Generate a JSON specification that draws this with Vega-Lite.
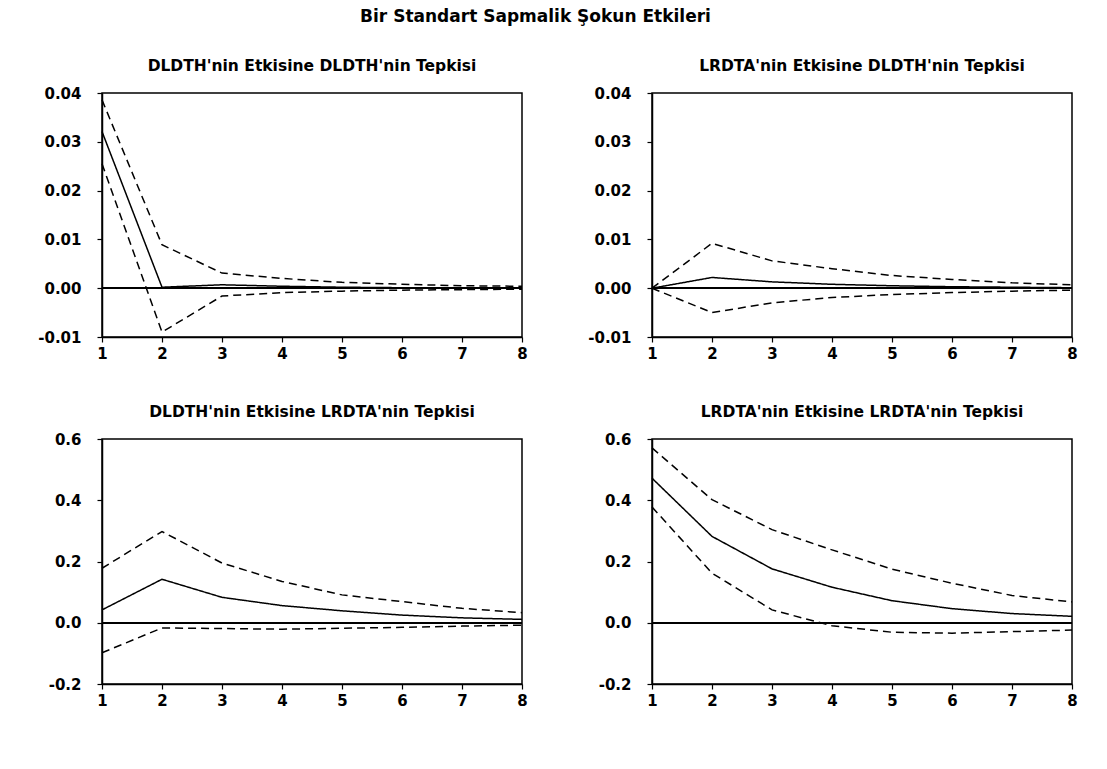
{
  "$schema": "https://vega.github.io/schema/vega-lite/v6.json",
  "background": "white",
  "padding": {"left": 37, "top": 7, "right": 10, "bottom": 10},
  "title": {"text": "Bir Standart Sapmalik Şokun Etkileri", "font": "DejaVu Sans", "fontSize": 17, "fontWeight": "bold", "color": "black", "anchor": "middle", "baseline": "alphabetic", "offset": 19, "dx": -22},
  "columns": 2,
  "spacing": {"row": 102, "column": 130},
  "bounds": "flush",
  "data": {"values": [
    {"p": 1, "s": "resp", "h": 1, "v": 0.0321}, {"p": 1, "s": "resp", "h": 2, "v": 0.0002}, {"p": 1, "s": "resp", "h": 3, "v": 0.0007}, {"p": 1, "s": "resp", "h": 4, "v": 0.0004}, {"p": 1, "s": "resp", "h": 5, "v": 0.0002}, {"p": 1, "s": "resp", "h": 6, "v": 0.0001}, {"p": 1, "s": "resp", "h": 7, "v": 0.0001}, {"p": 1, "s": "resp", "h": 8, "v": 0.0000},
    {"p": 1, "s": "upper", "h": 1, "v": 0.0386}, {"p": 1, "s": "upper", "h": 2, "v": 0.0089}, {"p": 1, "s": "upper", "h": 3, "v": 0.0031}, {"p": 1, "s": "upper", "h": 4, "v": 0.0020}, {"p": 1, "s": "upper", "h": 5, "v": 0.0012}, {"p": 1, "s": "upper", "h": 6, "v": 0.0008}, {"p": 1, "s": "upper", "h": 7, "v": 0.0005}, {"p": 1, "s": "upper", "h": 8, "v": 0.0004},
    {"p": 1, "s": "lower", "h": 1, "v": 0.0255}, {"p": 1, "s": "lower", "h": 2, "v": -0.0090}, {"p": 1, "s": "lower", "h": 3, "v": -0.0016}, {"p": 1, "s": "lower", "h": 4, "v": -0.0009}, {"p": 1, "s": "lower", "h": 5, "v": -0.0006}, {"p": 1, "s": "lower", "h": 6, "v": -0.0004}, {"p": 1, "s": "lower", "h": 7, "v": -0.0003}, {"p": 1, "s": "lower", "h": 8, "v": -0.0002},
    {"p": 2, "s": "resp", "h": 1, "v": 0.0}, {"p": 2, "s": "resp", "h": 2, "v": 0.0022}, {"p": 2, "s": "resp", "h": 3, "v": 0.0013}, {"p": 2, "s": "resp", "h": 4, "v": 0.0008}, {"p": 2, "s": "resp", "h": 5, "v": 0.0005}, {"p": 2, "s": "resp", "h": 6, "v": 0.0003}, {"p": 2, "s": "resp", "h": 7, "v": 0.0002}, {"p": 2, "s": "resp", "h": 8, "v": 0.0001},
    {"p": 2, "s": "upper", "h": 1, "v": 0.0}, {"p": 2, "s": "upper", "h": 2, "v": 0.0092}, {"p": 2, "s": "upper", "h": 3, "v": 0.0056}, {"p": 2, "s": "upper", "h": 4, "v": 0.0040}, {"p": 2, "s": "upper", "h": 5, "v": 0.0026}, {"p": 2, "s": "upper", "h": 6, "v": 0.0018}, {"p": 2, "s": "upper", "h": 7, "v": 0.0011}, {"p": 2, "s": "upper", "h": 8, "v": 0.0007},
    {"p": 2, "s": "lower", "h": 1, "v": 0.0}, {"p": 2, "s": "lower", "h": 2, "v": -0.0050}, {"p": 2, "s": "lower", "h": 3, "v": -0.0030}, {"p": 2, "s": "lower", "h": 4, "v": -0.0019}, {"p": 2, "s": "lower", "h": 5, "v": -0.0013}, {"p": 2, "s": "lower", "h": 6, "v": -0.0009}, {"p": 2, "s": "lower", "h": 7, "v": -0.0006}, {"p": 2, "s": "lower", "h": 8, "v": -0.0004},
    {"p": 3, "s": "resp", "h": 1, "v": 0.042}, {"p": 3, "s": "resp", "h": 2, "v": 0.142}, {"p": 3, "s": "resp", "h": 3, "v": 0.083}, {"p": 3, "s": "resp", "h": 4, "v": 0.056}, {"p": 3, "s": "resp", "h": 5, "v": 0.039}, {"p": 3, "s": "resp", "h": 6, "v": 0.025}, {"p": 3, "s": "resp", "h": 7, "v": 0.016}, {"p": 3, "s": "resp", "h": 8, "v": 0.011},
    {"p": 3, "s": "upper", "h": 1, "v": 0.178}, {"p": 3, "s": "upper", "h": 2, "v": 0.298}, {"p": 3, "s": "upper", "h": 3, "v": 0.195}, {"p": 3, "s": "upper", "h": 4, "v": 0.135}, {"p": 3, "s": "upper", "h": 5, "v": 0.091}, {"p": 3, "s": "upper", "h": 6, "v": 0.069}, {"p": 3, "s": "upper", "h": 7, "v": 0.047}, {"p": 3, "s": "upper", "h": 8, "v": 0.033},
    {"p": 3, "s": "lower", "h": 1, "v": -0.098}, {"p": 3, "s": "lower", "h": 2, "v": -0.017}, {"p": 3, "s": "lower", "h": 3, "v": -0.019}, {"p": 3, "s": "lower", "h": 4, "v": -0.021}, {"p": 3, "s": "lower", "h": 5, "v": -0.018}, {"p": 3, "s": "lower", "h": 6, "v": -0.015}, {"p": 3, "s": "lower", "h": 7, "v": -0.011}, {"p": 3, "s": "lower", "h": 8, "v": -0.008},
    {"p": 4, "s": "resp", "h": 1, "v": 0.472}, {"p": 4, "s": "resp", "h": 2, "v": 0.282}, {"p": 4, "s": "resp", "h": 3, "v": 0.176}, {"p": 4, "s": "resp", "h": 4, "v": 0.116}, {"p": 4, "s": "resp", "h": 5, "v": 0.072}, {"p": 4, "s": "resp", "h": 6, "v": 0.046}, {"p": 4, "s": "resp", "h": 7, "v": 0.030}, {"p": 4, "s": "resp", "h": 8, "v": 0.021},
    {"p": 4, "s": "upper", "h": 1, "v": 0.571}, {"p": 4, "s": "upper", "h": 2, "v": 0.402}, {"p": 4, "s": "upper", "h": 3, "v": 0.304}, {"p": 4, "s": "upper", "h": 4, "v": 0.238}, {"p": 4, "s": "upper", "h": 5, "v": 0.175}, {"p": 4, "s": "upper", "h": 6, "v": 0.129}, {"p": 4, "s": "upper", "h": 7, "v": 0.089}, {"p": 4, "s": "upper", "h": 8, "v": 0.068},
    {"p": 4, "s": "lower", "h": 1, "v": 0.378}, {"p": 4, "s": "lower", "h": 2, "v": 0.162}, {"p": 4, "s": "lower", "h": 3, "v": 0.042}, {"p": 4, "s": "lower", "h": 4, "v": -0.010}, {"p": 4, "s": "lower", "h": 5, "v": -0.031}, {"p": 4, "s": "lower", "h": 6, "v": -0.034}, {"p": 4, "s": "lower", "h": 7, "v": -0.029}, {"p": 4, "s": "lower", "h": 8, "v": -0.024}
  ]},
  "concat": [
    {
      "title": {"text": "DLDTH'nin Etkisine DLDTH'nin Tepkisi"},
      "width": 420, "height": 244,
      "transform": [{"filter": "datum.p == 1"}],
      "layer": [
        {"mark": {"type": "rule", "color": "black", "strokeWidth": 1.5}, "encoding": {"y": {"datum": 0, "type": "quantitative", "scale": {"domain": [-0.01, 0.04], "nice": false, "zero": false}}}},
        {"mark": {"type": "line", "color": "black", "strokeWidth": 1.5},
         "encoding": {
           "x": {"field": "h", "type": "quantitative", "title": null, "scale": {"domain": [1, 8], "nice": false, "zero": false}, "axis": {"values": [1, 2, 3, 4, 5, 6, 7, 8], "format": "d"}},
           "y": {"field": "v", "type": "quantitative", "title": null, "scale": {"domain": [-0.01, 0.04], "nice": false, "zero": false}, "axis": {"values": [-0.01, 0, 0.01, 0.02, 0.03, 0.04], "format": ".2f"}},
           "detail": {"field": "s"},
           "strokeDash": {"field": "s", "type": "nominal", "scale": {"domain": ["resp", "upper", "lower"], "range": [[1, 0], [8, 5], [8, 5]]}, "legend": null}
         }}
      ]
    },
    {
      "title": {"text": "LRDTA'nin Etkisine DLDTH'nin Tepkisi"},
      "width": 420, "height": 244,
      "transform": [{"filter": "datum.p == 2"}],
      "layer": [
        {"mark": {"type": "rule", "color": "black", "strokeWidth": 1.5}, "encoding": {"y": {"datum": 0, "type": "quantitative", "scale": {"domain": [-0.01, 0.04], "nice": false, "zero": false}}}},
        {"mark": {"type": "line", "color": "black", "strokeWidth": 1.5},
         "encoding": {
           "x": {"field": "h", "type": "quantitative", "title": null, "scale": {"domain": [1, 8], "nice": false, "zero": false}, "axis": {"values": [1, 2, 3, 4, 5, 6, 7, 8], "format": "d"}},
           "y": {"field": "v", "type": "quantitative", "title": null, "scale": {"domain": [-0.01, 0.04], "nice": false, "zero": false}, "axis": {"values": [-0.01, 0, 0.01, 0.02, 0.03, 0.04], "format": ".2f"}},
           "detail": {"field": "s"},
           "strokeDash": {"field": "s", "type": "nominal", "scale": {"domain": ["resp", "upper", "lower"], "range": [[1, 0], [8, 5], [8, 5]]}, "legend": null}
         }}
      ]
    },
    {
      "title": {"text": "DLDTH'nin Etkisine LRDTA'nin Tepkisi"},
      "width": 420, "height": 245,
      "transform": [{"filter": "datum.p == 3"}],
      "layer": [
        {"mark": {"type": "rule", "color": "black", "strokeWidth": 1.5}, "encoding": {"y": {"datum": 0, "type": "quantitative", "scale": {"domain": [-0.2, 0.6], "nice": false, "zero": false}}}},
        {"mark": {"type": "line", "color": "black", "strokeWidth": 1.5},
         "encoding": {
           "x": {"field": "h", "type": "quantitative", "title": null, "scale": {"domain": [1, 8], "nice": false, "zero": false}, "axis": {"values": [1, 2, 3, 4, 5, 6, 7, 8], "format": "d"}},
           "y": {"field": "v", "type": "quantitative", "title": null, "scale": {"domain": [-0.2, 0.6], "nice": false, "zero": false}, "axis": {"values": [-0.2, 0, 0.2, 0.4, 0.6], "format": ".1f"}},
           "detail": {"field": "s"},
           "strokeDash": {"field": "s", "type": "nominal", "scale": {"domain": ["resp", "upper", "lower"], "range": [[1, 0], [8, 5], [8, 5]]}, "legend": null}
         }}
      ]
    },
    {
      "title": {"text": "LRDTA'nin Etkisine LRDTA'nin Tepkisi"},
      "width": 420, "height": 245,
      "transform": [{"filter": "datum.p == 4"}],
      "layer": [
        {"mark": {"type": "rule", "color": "black", "strokeWidth": 1.5}, "encoding": {"y": {"datum": 0, "type": "quantitative", "scale": {"domain": [-0.2, 0.6], "nice": false, "zero": false}}}},
        {"mark": {"type": "line", "color": "black", "strokeWidth": 1.5},
         "encoding": {
           "x": {"field": "h", "type": "quantitative", "title": null, "scale": {"domain": [1, 8], "nice": false, "zero": false}, "axis": {"values": [1, 2, 3, 4, 5, 6, 7, 8], "format": "d"}},
           "y": {"field": "v", "type": "quantitative", "title": null, "scale": {"domain": [-0.2, 0.6], "nice": false, "zero": false}, "axis": {"values": [-0.2, 0, 0.2, 0.4, 0.6], "format": ".1f"}},
           "detail": {"field": "s"},
           "strokeDash": {"field": "s", "type": "nominal", "scale": {"domain": ["resp", "upper", "lower"], "range": [[1, 0], [8, 5], [8, 5]]}, "legend": null}
         }}
      ]
    }
  ],
  "config": {
    "locale": {"number": {"decimal": ".", "thousands": ",", "grouping": [3], "currency": ["$", ""], "minus": "-"}},
    "view": {"stroke": "black", "strokeWidth": 1.5},
    "title": {"font": "DejaVu Sans", "fontSize": 15.5, "fontWeight": "bold", "color": "black", "anchor": "middle", "baseline": "alphabetic", "offset": 12},
    "axis": {"grid": false, "domainColor": "black", "domainWidth": 1.5, "tickColor": "black", "tickWidth": 1.2, "tickSize": 5, "labelColor": "black", "labelFont": "DejaVu Sans", "labelFontSize": 15, "labelFontWeight": "bold", "labelFlush": false, "labelOverlap": false, "labelBound": false},
    "axisX": {"labelPadding": 4},
    "axisY": {"labelPadding": 16}
  }
}
